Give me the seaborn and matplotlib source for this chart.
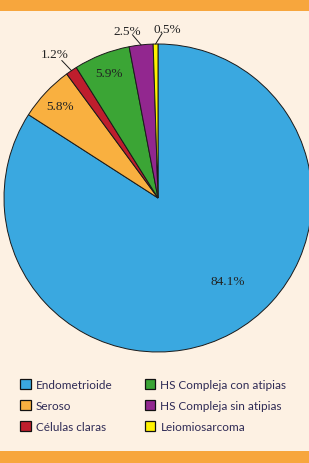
import matplotlib
matplotlib.use("Agg")
import matplotlib.pyplot as plt
import matplotlib.patches as mpatches
import numpy as np
import seaborn as sns

categories = ["Endometrioide", "Seroso", "Células claras",
              "HS Compleja con atipias", "HS Compleja sin atipias", "Leiomiosarcoma"]
values = [84.1, 5.8, 1.2, 5.9, 2.5, 0.5]
labels = ["84.1%", "5.8%", "1.2%", "5.9%", "2.5%", "0.5%"]
colors = ["#3AA8E0", "#F9B040", "#BE1E2D", "#3BA535", "#92278F", "#FFF200"]

sns.set_style("white")
plt.rcParams["font.family"] = ["Lato", "DejaVu Sans"]

W, H = 309, 464
fig = plt.figure(figsize=(W / 100, H / 100), dpi=100)
bg = "#FDF1E3"
band = "#F7A63D"
fig.patch.set_facecolor(bg)
fig.patches.append(mpatches.Rectangle((0, 1 - 12 / H), 1, 12 / H, transform=fig.transFigure,
                                      facecolor=band, edgecolor="none", zorder=0))
fig.patches.append(mpatches.Rectangle((0, 0), 1, 12 / H, transform=fig.transFigure,
                                      facecolor=band, edgecolor="none", zorder=0))

cx, cy, R = 158, 199, 154
ax = fig.add_axes([(cx - R) / W, 1 - (cy + R) / H, 2 * R / W, 2 * R / H])
ax.set_facecolor("none")
wedges, _ = ax.pie(values, colors=colors, startangle=90, counterclock=False,
                   wedgeprops=dict(edgecolor="#1a1a1a", linewidth=0.7))
for w in wedges:
    w.set_clip_on(False)
ax.set_xlim(-1, 1)
ax.set_ylim(-1, 1)
ax.set_aspect("equal")
ax.axis("off")

serif = ["Liberation Serif", "DejaVu Serif"]
tcol = "#222222"


def mid(w):
    return np.deg2rad(((w.theta1 + w.theta2) / 2) % 360)


# inside labels
inside = {0: (np.deg2rad(-50), 0.70), 1: (None, 0.87), 3: (None, 0.87)}
for i, (ang, r) in inside.items():
    a = mid(wedges[i]) if ang is None else ang
    ax.text(r * np.cos(a), r * np.sin(a), labels[i], ha="center", va="center",
            fontsize=9.5, family=serif, color=tcol)

# outside labels with leader lines
outside = {2: (1.09, np.deg2rad(125.5), 1.15), 4: (1.07, np.deg2rad(100.5), 1.10),
           5: (1.07, np.deg2rad(87.0), 1.10)}
for i, (r_end, ta, tr) in outside.items():
    a = mid(wedges[i])
    x0, y0 = np.cos(a), np.sin(a)
    ae = a + (ta - a) * 0.6
    ax.plot([x0, r_end * np.cos(ae)], [y0, r_end * np.sin(ae)],
            color="#1a1a1a", lw=0.7, clip_on=False)
    ax.text(tr * np.cos(ta), tr * np.sin(ta), labels[i], ha="center", va="center",
            fontsize=9.5, family=serif, color=tcol, clip_on=False)

handles = [mpatches.Patch(facecolor=c, edgecolor="#111111", linewidth=0.9, label=l)
           for c, l in zip(colors, categories)]
leg = fig.legend(handles=handles, ncol=2, frameon=False, loc="upper left",
                 bbox_to_anchor=(20 / W, 1 - 380 / H), borderaxespad=0, borderpad=0,
                 fontsize=8.5, handlelength=0.9, handleheight=0.9, handletextpad=0.45,
                 columnspacing=2.7, labelspacing=0.85, labelcolor="#2E2A55")

fig.savefig("out.png", dpi=100, facecolor=bg)
